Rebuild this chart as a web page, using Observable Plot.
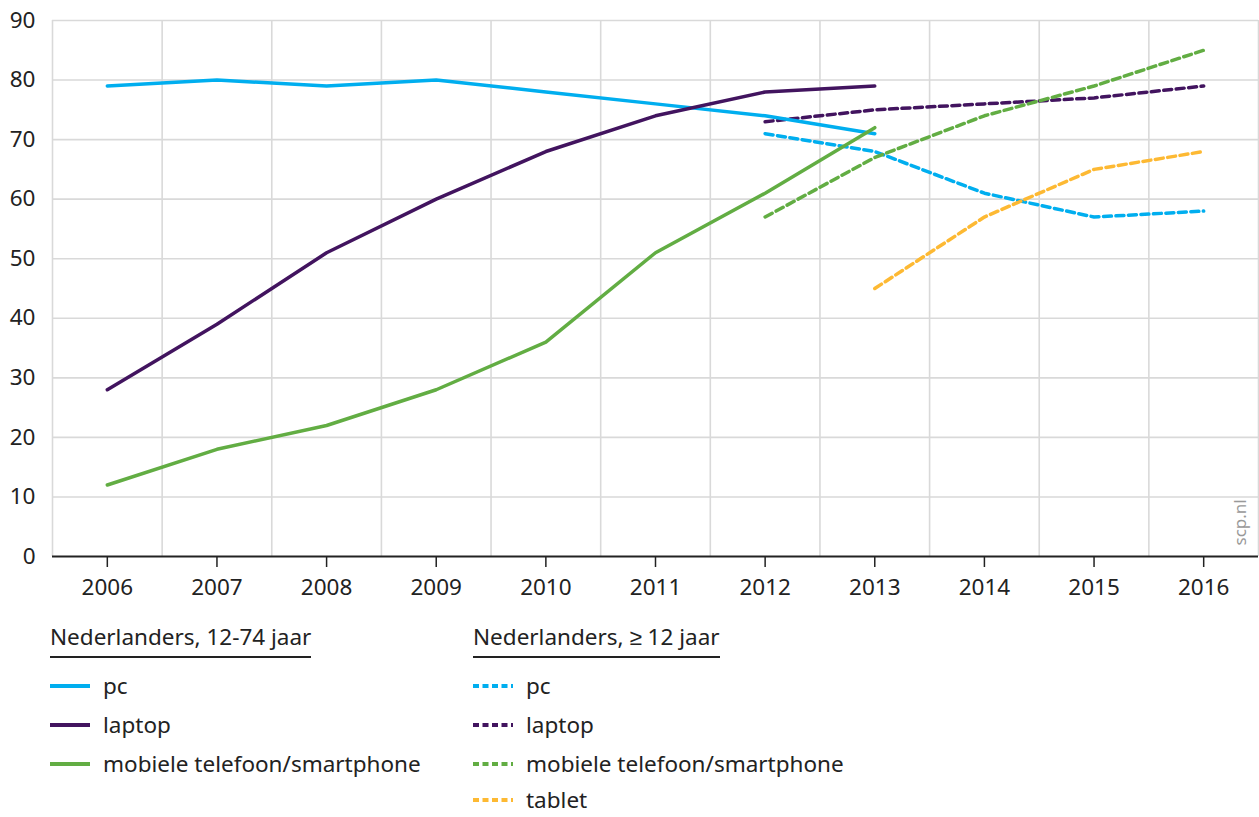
<!DOCTYPE html>
<html><head><meta charset="utf-8">
<script src="https://cdn.jsdelivr.net/npm/d3@7"></script>
<script src="https://cdn.jsdelivr.net/npm/@observablehq/plot@0.6"></script>
<style>
body{margin:0;background:#fff;font-family:"Noto Sans",sans-serif;color:#222;width:1259px;height:817px;position:relative}
#chart{position:absolute;left:0;top:0}
.head{position:absolute;font-size:22.5px;line-height:26px;padding-bottom:6px;border-bottom:2px solid #222;white-space:nowrap}
.row{position:absolute;font-size:22.5px;line-height:22px;height:22px;white-space:nowrap;display:flex;align-items:center}
.row svg{margin-right:13px}
</style></head><body>
<div id="chart"></div>
<div id="legend"></div>
<script>
// ---- data ----
const yearsA = [2006, 2007, 2008, 2009, 2010, 2011, 2012, 2013];
const pcA     = [79, 80, 79, 80, 78, 76, 74, 71];
const laptopA = [28, 39, 51, 60, 68, 74, 78, 79];
const mobileA = [12, 18, 22, 28, 36, 51, 61, 72];

const yearsB  = [2012, 2013, 2014, 2015, 2016];
const pcB     = [71, 68, 61, 57, 58];
const laptopB = [73, 75, 76, 77, 79];
const mobileB = [57, 67, 74, 79, 85];
const yearsTablet = [2013, 2014, 2015, 2016];
const tabletB = [45, 57, 65, 68];

const xTicks = [2006, 2007, 2008, 2009, 2010, 2011, 2012, 2013, 2014, 2015, 2016];
const yTicks = [0, 10, 20, 30, 40, 50, 60, 70, 80, 90];

const groupA = "Nederlanders, 12-74 jaar";
const groupB = "Nederlanders, \u2265 12 jaar";
const devices = ["pc", "laptop", "mobiele telefoon/smartphone", "tablet"];
const colors = {"pc": "#00aeef", "laptop": "#42145f", "mobiele telefoon/smartphone": "#62ad43", "tablet": "#fdb933"};

// ---- tidy table ----
const rows = [];
function add(group, device, years, vals){ years.forEach((y,i)=>rows.push({group, device, year:y, value:vals[i], key:group+"|"+device})); }
add(groupA, "pc", yearsA, pcA);
add(groupA, "laptop", yearsA, laptopA);
add(groupA, "mobiele telefoon/smartphone", yearsA, mobileA);
add(groupB, "pc", yearsB, pcB);
add(groupB, "laptop", yearsB, laptopB);
add(groupB, "mobiele telefoon/smartphone", yearsB, mobileB);
add(groupB, "tablet", yearsTablet, tabletB);

const xDomain = [xTicks[0] - 0.5, xTicks[xTicks.length-1] + 0.5];
const vGrid = [xDomain[0], ...xTicks.map(d => d + 0.5)];
const solid = rows.filter(d => d.group === groupA);
const dashed = rows.filter(d => d.group === groupB);

const chart = Plot.plot({
  width: 1259, height: 612,
  marginLeft: 52, marginRight: 1, marginTop: 20, marginBottom: 56,
  style: {fontFamily: '"Noto Sans", sans-serif', fontSize: "22.5px", color: "#222", background: "#fff"},
  x: {domain: xDomain, label: null},
  y: {domain: [0, 90], label: null},
  marks: [
    Plot.ruleX(vGrid, {stroke: "#d9d9d9", strokeWidth: 1.6}),
    Plot.ruleY(yTicks.filter(d => d > 0), {stroke: "#d9d9d9", strokeWidth: 1.6}),
    Plot.axisX({ticks: xTicks, tickFormat: d => String(d), tickSize: 11, tickPadding: 12, stroke: "#222", strokeWidth: 1.5, fill: "#222", label: null}),
    Plot.axisY({ticks: yTicks, tickSize: 0, tickPadding: 17, fill: "#222", label: null}),
    Plot.line(dashed, {x: "year", y: "value", z: "key", stroke: d => colors[d.device], strokeWidth: 3.5, strokeDasharray: "8,4.5", strokeLinejoin: "miter"}),
    Plot.line(solid, {x: "year", y: "value", z: "key", stroke: d => colors[d.device], strokeWidth: 3.5}),
    Plot.ruleY([0], {stroke: "#222", strokeWidth: 2}),
    Plot.text(["scp.nl"], {frameAnchor: "bottom-right", rotate: -90, dx: -18, dy: -11, textAnchor: "start", lineAnchor: "middle", fill: "#999", fontSize: 17})
  ]
});
document.getElementById("chart").appendChild(chart);

// ---- legend ----
const legend = document.getElementById("legend");
function swatch(color, dashed){
  return `<svg width="40" height="6"><line x1="0" x2="40" y1="3" y2="3" stroke="${color}" stroke-width="4" ${dashed ? 'stroke-dasharray="6,3.5"' : ''}/></svg>`;
}
const cols = [
  {group: groupA, left: 50, items: devices.slice(0,3), dashed: false},
  {group: groupB, left: 473, items: devices, dashed: true}
];
const rowCenters = [686, 725, 764, 800];
cols.forEach(c => {
  const h = document.createElement("div");
  h.className = "head";
  h.style.left = c.left + "px"; h.style.top = "624px";
  h.textContent = c.group;
  legend.appendChild(h);
  c.items.forEach((it, i) => {
    const r = document.createElement("div");
    r.className = "row";
    r.style.left = c.left + "px"; r.style.top = (rowCenters[i] - 11) + "px";
    r.innerHTML = swatch(colors[it], c.dashed) + `<span>${it}</span>`;
    legend.appendChild(r);
  });
});
</script>
</body></html>
